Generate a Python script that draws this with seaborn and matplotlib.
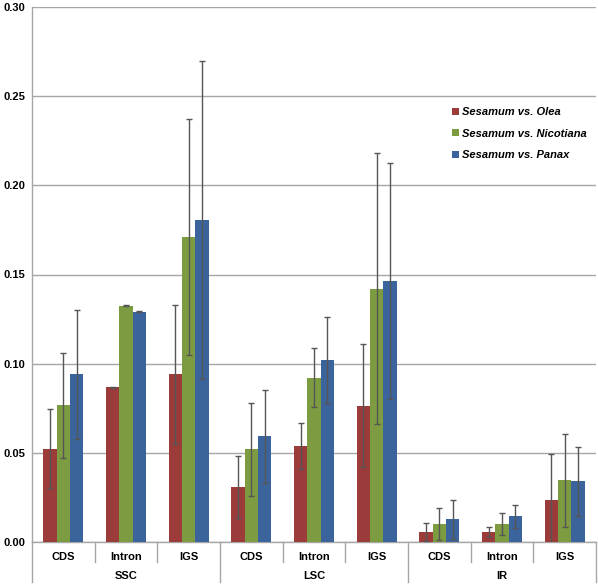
import matplotlib
matplotlib.use("Agg")
import matplotlib.pyplot as plt
import matplotlib.transforms as mtransforms
import seaborn as sns
import pandas as pd
import numpy as np

# ---- data ----
groups = ["SSC", "LSC", "IR"]
features = ["CDS", "Intron", "IGS"]
series = ["Sesamum vs. Olea", "Sesamum vs. Nicotiana", "Sesamum vs. Panax"]

olea_mean = [0.0523, 0.0867, 0.0940, 0.0307, 0.0538, 0.0765, 0.0056, 0.0058, 0.0234]
olea_err = [0.0220, 0.0003, 0.0390, 0.0175, 0.0130, 0.0343, 0.0050, 0.0028, 0.0258]
nico_mean = [0.0766, 0.1325, 0.1710, 0.0520, 0.0921, 0.1420, 0.0101, 0.0101, 0.0346]
nico_err = [0.0295, 0.0003, 0.0660, 0.0262, 0.0165, 0.0760, 0.0091, 0.0059, 0.0261]
panax_mean = [0.0940, 0.1290, 0.1804, 0.0593, 0.1019, 0.1464, 0.0127, 0.0144, 0.0340]
panax_err = [0.0363, 0.0003, 0.0891, 0.0262, 0.0242, 0.0660, 0.0108, 0.0066, 0.0193]

yticks = [0.00, 0.05, 0.10, 0.15, 0.20, 0.25, 0.30]

colors = ["#9B3B3A", "#7D9B40", "#3C649C"]

# ---- table ----
cats = [f"{g}-{f}" for g in groups for f in features]
rows = []
for s, m, e in zip(series, [olea_mean, nico_mean, panax_mean], [olea_err, nico_err, panax_err]):
    for c, mv, ev in zip(cats, m, e):
        rows.append({"cat": c, "series": s, "value": mv, "err": ev})
df = pd.DataFrame(rows)

plt.rcParams["font.family"] = ["Liberation Sans", "DejaVu Sans"]

fig = plt.figure(figsize=(5.98, 5.85), dpi=100)
ax = fig.add_axes([32 / 598, 43 / 585, 564 / 598, 535 / 585])

sns.barplot(data=df, x="cat", y="value", hue="series", order=cats,
            hue_order=series, palette=colors, errorbar=None,
            width=0.64, saturation=1, ax=ax, zorder=3, linewidth=0)

# error bars from the bar positions
for cont, s in zip(ax.containers, series):
    sub = df[df["series"] == s].set_index("cat").loc[cats]
    xs = [p.get_x() + p.get_width() / 2 for p in cont.patches]
    ax.errorbar(xs, sub["value"].values, yerr=sub["err"].values, fmt="none",
                ecolor="#555555", elinewidth=1.0, capsize=2.5, capthick=1.0,
                zorder=4)

ax.set_xlim(-0.5, len(cats) - 0.5)
ax.set_ylim(0, 0.30)
ax.set_yticks(yticks)
ax.set_yticklabels([f"{t:.2f}" for t in yticks], fontsize=8, fontweight="bold")
ax.set_xticks(range(len(cats)))
ax.set_xticklabels(features * len(groups), fontsize=8, fontweight="bold")
ax.tick_params(axis="x", length=0, pad=7)
ax.tick_params(axis="y", length=0, pad=5)
ax.set_xlabel("")
ax.set_ylabel("")

ax.grid(axis="y", color="#a6a6a6", linewidth=1.0, zorder=0)
ax.set_axisbelow(True)
for side in ["top", "right"]:
    ax.spines[side].set_visible(False)
for side in ["left", "bottom"]:
    ax.spines[side].set_color("#a6a6a6")
    ax.spines[side].set_linewidth(1.0)

# category separators and group labels below axis
trans = mtransforms.blended_transform_factory(ax.transData, ax.transAxes)
for i in range(len(cats) + 1):
    xb = i - 0.5
    if i % 3 == 0:
        y0 = -40 / 535
    else:
        y0 = -20 / 535
    ax.plot([xb, xb], [0, y0], transform=trans, color="#a6a6a6",
            linewidth=1.0, clip_on=False)
for gi, g in enumerate(groups):
    ax.text(gi * 3 + 1, -34 / 535, g, transform=trans, ha="center",
            va="center", fontsize=8, fontweight="bold")

# legend
handles, labels = ax.get_legend_handles_labels()
leg = ax.legend(handles, labels, loc="upper left",
                bbox_to_anchor=(442 / 598, 1 - 97 / 585),
                bbox_transform=fig.transFigure, frameon=False,
                prop={"size": 8, "weight": "bold", "style": "italic"},
                handlelength=0.6, handleheight=0.6, handletextpad=0.3,
                labelspacing=1.05)

fig.savefig("out.png", dpi=100)
